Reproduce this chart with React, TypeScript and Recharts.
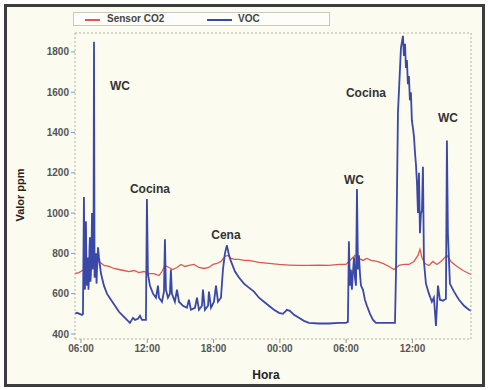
import * as React from 'react';
import { LineChart, Line, XAxis, YAxis, ReferenceDot } from 'recharts';

// VOC trace (hours since 00:00 of day 1, ppm)
const vocHours = [
  5.46, 5.64, 6.09, 6.18, 6.27, 6.32, 6.36, 6.42, 6.45, 6.50, 6.54, 6.60, 6.63, 6.68, 6.72, 6.77, 6.81, 6.86,
  6.90, 6.95, 7.00, 7.05, 7.09, 7.14, 7.18, 7.23, 7.27, 7.32, 7.36, 7.41, 7.45, 7.50, 7.54, 7.63, 7.81, 8.08,
  8.35, 8.71, 9.08, 9.44, 9.80, 10.16, 10.43, 10.71, 10.89, 11.16, 11.34, 11.52, 11.88, 11.97, 12.06, 12.24,
  12.52, 12.79, 12.97, 13.06, 13.33, 13.51, 13.60, 13.69, 13.87, 14.05, 14.14, 14.23, 14.50, 14.69, 14.87,
  15.23, 15.59, 15.77, 15.95, 16.32, 16.50, 16.68, 16.95, 17.04, 17.22, 17.50, 17.58, 17.77, 18.04, 18.22,
  18.40, 18.67, 18.85, 19.03, 19.21, 19.40, 19.58, 19.94, 20.30, 20.75, 21.20, 21.66, 22.11, 22.56, 23.01,
  23.47, 23.92, 24.28, 24.64, 24.91, 25.28, 25.73, 26.18, 26.63, 27.54, 28.44, 29.35, 29.98, 30.16, 30.25,
  30.34, 30.43, 30.52, 30.61, 30.71, 30.80, 30.89, 30.98, 31.07, 31.16, 31.25, 31.34, 31.52, 31.70, 31.88,
  32.16, 32.43, 32.70, 33.42, 34.42, 34.51, 34.69, 34.96, 35.14, 35.23, 35.33, 35.41, 35.50, 35.59, 35.68,
  35.77, 35.86, 35.95, 36.05, 36.14, 36.23, 36.32, 36.41, 36.50, 36.59, 36.68, 36.77, 36.86, 36.95, 37.04,
  37.22, 37.49, 37.76, 37.94, 38.13, 38.31, 38.49, 38.76, 39.03, 39.12, 39.21, 39.39, 39.76, 40.21, 40.67,
  41.11, 41.30,
];
const vocValues = [
  500, 505, 495, 500, 1080, 650, 620, 780, 960, 700, 640, 760, 780, 620, 680, 820, 880, 660,
  700, 780, 1000, 720, 760, 900, 1850, 680, 700, 760, 800, 650, 720, 760, 830, 780, 700, 640,
  600, 570, 540, 510, 490, 470, 455, 480, 470, 475, 490, 470, 470, 1070, 700, 640,
  600, 580, 640, 580, 560, 610, 870, 620, 580, 600, 720, 600, 560, 620, 560,
  540, 530, 570, 520, 530, 580, 520, 540, 620, 520, 540, 610, 530, 560, 640,
  560, 580, 720, 800, 840, 790, 760, 710, 680, 650, 630, 610, 580, 560, 540,
  520, 505, 500, 520, 515, 495, 480, 465, 455, 452, 452, 455, 455, 460, 860,
  640, 720, 620, 700, 780, 680, 640, 1120, 720, 790, 700, 640, 620, 570, 540,
  500, 470, 455, 455, 455, 700, 1500, 1820, 1880, 1780, 1840, 1720, 1760, 1640, 1680,
  1560, 1600, 1460, 1420, 1380, 1300, 1240, 1150, 1000, 1200, 900, 1000, 1010, 1230, 760,
  650, 600, 560, 580, 440, 640, 570, 565, 575, 1360, 900, 650, 610, 570, 540,
  520, 515,
];

// CO2 sensor trace
const co2Hours = [
  5.46, 5.82, 6.27, 6.54, 6.90, 7.27, 7.63, 8.08, 8.53, 8.99, 9.44, 9.89, 10.34, 10.80, 11.25, 11.70, 12.15,
  12.61, 13.06, 13.33, 13.60, 13.96, 14.32, 14.69, 15.05, 15.41, 15.77, 16.23, 16.68, 17.13, 17.58, 17.95,
  18.31, 18.67, 19.03, 19.30, 19.58, 19.94, 20.30, 20.75, 21.20, 22.11, 23.01, 23.92, 24.82, 25.73, 26.63,
  27.54, 28.44, 29.35, 29.98, 30.43, 30.80, 31.16, 31.52, 31.88, 32.25, 32.79, 33.33, 33.88, 34.33, 34.78,
  35.24, 35.68, 36.14, 36.50, 36.68, 36.86, 37.13, 37.49, 37.85, 38.22, 38.58, 38.94, 39.12, 39.48, 40.03,
  40.58, 41.11, 41.30,
];
const co2Values = [
  700, 705, 720, 740, 755, 765, 760, 740, 735, 725, 720, 715, 710, 715, 705, 710, 700,
  700, 690, 710, 740, 730, 720, 730, 745, 735, 740, 745, 730, 725, 730, 745,
  750, 760, 785, 790, 775, 770, 770, 765, 765, 755, 750, 745, 742, 740, 740,
  742, 740, 745, 745, 770, 790, 775, 765, 775, 765, 760, 750, 735, 720, 740,
  745, 745, 760, 790, 820, 780, 750, 740, 760, 745, 760, 780, 790, 760, 735,
  715, 700, 695,
];

const xTicks = [6, 12, 18, 24, 30, 36];
const xTickLabels = ['06:00', '12:00', '18:00', '00:00', '06:00', '12:00'];
const yTicks = [400, 600, 800, 1000, 1200, 1400, 1600, 1800];

const notes = [
  { label: 'WC', h: 9.53, v: 1631 },
  { label: 'Cocina', h: 12.24, v: 1120 },
  { label: 'Cena', h: 19.12, v: 892 },
  { label: 'WC', h: 30.71, v: 1165 },
  { label: 'Cocina', h: 31.79, v: 1597 },
  { label: 'WC', h: 39.21, v: 1472 },
];

const vocData = vocHours.map((h, i) => ({ h, voc: vocValues[i] }));
const co2Data = co2Hours.map((h, i) => ({ h, co2: co2Values[i] }));

const minorX: number[] = [];
for (let t = 6; t <= 41; t++) minorX.push(t);
const minorY: number[] = [];
for (let v = 400; v <= 1850; v += 50) minorY.push(v);

const RED = '#e0564e';
const BLUE = '#3a48a8';
const FONT = 'Liberation Sans, Arial, sans-serif';

const tickStyle = { fontSize: 10, fill: '#555', fontFamily: FONT, fontWeight: 600 };
const axisLine = { stroke: '#b0b0a2', strokeDasharray: '2 2' };

export default function App() {
  return (
    <div style={{ position: 'fixed', left: 0, top: 0, width: 488, height: 390, background: '#fff', fontFamily: FONT }}>
      <div style={{
        position: 'absolute', left: 4, top: 4, width: 481, height: 383, boxSizing: 'border-box',
        border: '3px solid #3c3c3c', background: '#fbfbef',
      }} />
      <div style={{ position: 'absolute', left: 0, top: 0 }}>
        <LineChart width={488} height={390} margin={{ top: 29, right: 13, bottom: 21, left: 25 }}>
          <XAxis
            xAxisId="b" dataKey="h" type="number" domain={[5.46, 41.3]} ticks={xTicks} allowDataOverflow
            tickFormatter={(v: number) => xTickLabels[xTicks.indexOf(v)] ?? ''}
            height={30} tick={tickStyle} tickSize={4} axisLine={axisLine} tickLine={{ stroke: '#999' }}
          />
          <XAxis
            xAxisId="t" orientation="top" dataKey="h" type="number" domain={[5.46, 41.3]} ticks={minorX}
            height={4} tick={false} tickSize={3} axisLine={axisLine} tickLine={{ stroke: '#bbb' }} allowDataOverflow
          />
          <YAxis
            yAxisId="l" type="number" domain={[375, 1894]} ticks={yTicks} allowDataOverflow
            width={50} tick={tickStyle} tickSize={4} axisLine={axisLine} tickLine={{ stroke: '#999' }}
          />
          <YAxis
            yAxisId="r" orientation="right" type="number" domain={[375, 1894]} ticks={minorY} allowDataOverflow
            width={4} tick={false} tickSize={3} axisLine={axisLine} tickLine={{ stroke: '#bbb' }}
          />
          <Line
            xAxisId="b" yAxisId="l" data={co2Data} dataKey="co2" type="linear" stroke={RED}
            strokeWidth={1.3} dot={false} isAnimationActive={false}
          />
          <Line
            xAxisId="b" yAxisId="l" data={vocData} dataKey="voc" type="linear" stroke={BLUE}
            strokeWidth={1.8} dot={false} isAnimationActive={false}
          />
          {notes.map((n, i) => (
            <ReferenceDot
              key={i} xAxisId="b" yAxisId="l" x={n.h} y={n.v} r={0} stroke="none" fill="none"
              label={{ value: n.label, position: 'center', fill: '#333', fontSize: 12, fontWeight: 700, fontFamily: FONT }}
            />
          ))}
        </LineChart>
      </div>
      {/* legend */}
      <div style={{
        position: 'absolute', left: 73, top: 12, width: 257, height: 14, boxSizing: 'border-box',
        border: '1px solid #c8c8c0', background: '#fdfdfa', fontSize: 10, color: '#444',
      }}>
        <div style={{ position: 'absolute', left: 11, top: 6, width: 15, height: 0, borderTop: `2px solid ${RED}` }} />
        <div style={{ position: 'absolute', left: 33, top: 0, lineHeight: '12px', fontWeight: 600 }}>Sensor CO2</div>
        <div style={{ position: 'absolute', left: 133, top: 6, width: 25, height: 0, borderTop: `2px solid ${BLUE}` }} />
        <div style={{ position: 'absolute', left: 164, top: 0, lineHeight: '12px', fontWeight: 600 }}>VOC</div>
      </div>
      {/* axis titles */}
      <div style={{
        position: 'absolute', left: 20, top: 195, transform: 'translate(-50%, -50%) rotate(-90deg)',
        fontSize: 11, fontWeight: 700, color: '#222', whiteSpace: 'nowrap',
      }}>Valor ppm</div>
      <div style={{
        position: 'absolute', left: 266, top: 375, transform: 'translate(-50%, -50%)',
        fontSize: 12, fontWeight: 700, color: '#222',
      }}>Hora</div>
    </div>
  );
}
